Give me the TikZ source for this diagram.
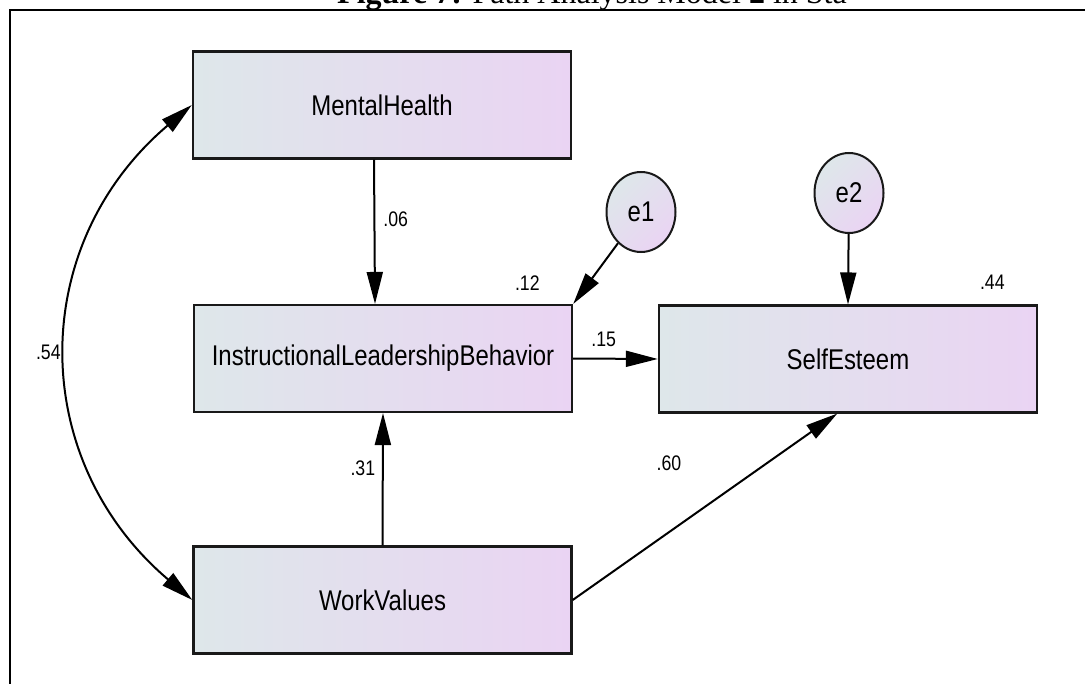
\documentclass[tikz,border=0pt]{standalone}
\usepackage{fontspec}
\setmainfont{Liberation Serif}
\newfontfamily\amosfont[FakeStretch=0.84]{Liberation Sans}
\usetikzlibrary{arrows.meta,shapes.geometric}
\definecolor{boxleft}{RGB}{222,231,234}
\definecolor{boxright}{RGB}{234,212,243}

\begin{document}
\begin{tikzpicture}[x=0.75pt, y=-0.75pt,
  var/.style={draw=black!90, line width=1.8pt, left color=boxleft, right color=boxright,
    minimum width=283.5pt, minimum height=80pt, inner sep=0pt,
    font=\amosfont\fontsize{21.4}{24}\selectfont},
  err/.style={ellipse, draw=black!90, line width=1.5pt, left color=boxleft, right color=boxright,
    shading angle=45, minimum width=51.75pt, minimum height=60pt, inner sep=0pt,
    font=\amosfont\fontsize{21.4}{24}\selectfont},
  coef/.style={inner sep=0pt, font=\amosfont\fontsize{15.8}{18}\selectfont},
  link/.style={line width=1.5pt, -{Triangle[length=24pt,width=12pt]}},
  cov/.style={line width=1.5pt, {Triangle[length=24pt,width=12pt]}-{Triangle[length=24pt,width=12pt]}}]
\useasboundingbox (0,0) rectangle (1085,684);
\clip (0,0) rectangle (1085,684);
\node[anchor=base, font=\fontsize{24}{28}\selectfont] (title) at (592,4)
  {\textbf{Figure 7:} Path Analysis Model \textbf{2} in Sta};
\draw[line width=1.1pt] (10,690) -- (10,10) -- (1090,10);

% variables
\node[var] (mh) at (382,105) {MentalHealth};
\node[var] (ilb) at (383,358.5) {InstructionalLeadershipBehavior};
\node[var] (se) at (848,359) {SelfEsteem};
\node[var] (wv) at (382.5,600) {WorkValues};
\node[err] (e1) at (641,212) {e1};
\node[err] (e2) at (849,193) {e2};

% paths
\draw[link] ([xshift=-6pt]mh.south) -- node[coef, pos=.41, right=6pt] (c06) {.06} ([xshift=-6pt]ilb.north);
\draw[link] (wv.north) -- node[coef, pos=.58, left=5pt] (c31) {.31} (ilb.south);
\draw[link] (e1) -- (ilb.north east);
\draw[link] (e2) -- (se.north);
\draw[link] (ilb.east) -- node[coef, pos=.36, above=8pt] (c15) {.15} (se.west);
\draw[link] (wv.east) -- node[coef, pos=.5, xshift=-27pt, yshift=33pt] (c60) {.60} ([xshift=-8pt]se.south);
\draw[cov] (mh.west) .. controls +(-165,140) and +(-165,-140) .. node[coef, pos=.5, left=5pt] (c54) {.54} (wv.west);

% squared multiple correlations
\node[coef, anchor=base east] (r12) at ([xshift=-25pt,yshift=10pt]ilb.north east) {.12};
\node[coef, anchor=base east] (r44) at ([xshift=-25pt,yshift=11pt]se.north east) {.44};
\end{tikzpicture}
\end{document}
